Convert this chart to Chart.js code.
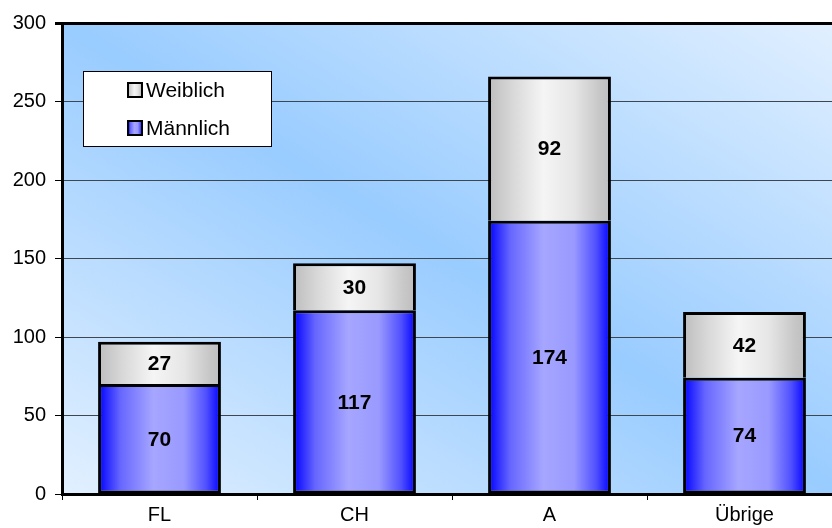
<!DOCTYPE html>
<html>
<head>
<meta charset="utf-8">
<script src="https://cdn.jsdelivr.net/npm/chart.js@4.4.0/dist/chart.umd.min.js"></script>
<style>
  html, body { margin: 0; padding: 0; background: #fff; overflow: hidden; }
  #wrap { width: 842px; height: 528px; }
</style>
</head>
<body>
<div id="wrap"><canvas id="chart"></canvas></div>
<script>
// Data
const categories = ['FL', 'CH', 'A', 'Übrige'];
const maennlich = [70, 117, 174, 74];
const weiblich = [27, 30, 92, 42];
const yTicks = [0, 50, 100, 150, 200, 250, 300];

const FONT = "'Liberation Sans', Arial, sans-serif";
const BAR_PCT = 0.63;

// horizontal gradient across one bar
function barGradient(ctx, stops) {
  const chart = ctx.chart;
  if (!chart.chartArea || !chart.scales.x) return stops[0][1];
  const xs = chart.scales.x;
  const cx = xs.getPixelForValue(ctx.dataIndex);
  const w = (chart.chartArea.width / categories.length) * BAR_PCT;
  const g = chart.ctx.createLinearGradient(cx - w / 2, 0, cx + w / 2, 0);
  stops.forEach(s => g.addColorStop(s[0], s[1]));
  return g;
}

const BLUE_STOPS = [[0, '#0000ff'], [0.18, '#6666ff'], [0.45, '#a6a6ff'], [0.7, '#9999ff'], [0.88, '#5050ff'], [1, '#0000ff']];
const GREY_STOPS = [[0, '#bdbdbd'], [0.2, '#d8d8d8'], [0.45, '#f5f5f5'], [0.7, '#e6e6e6'], [0.9, '#c8c8c8'], [1, '#bdbdbd']];

// plot background with diagonal band
const plotBackground = {
  id: 'plotBackground',
  beforeDraw(chart) {
    const { ctx, chartArea: a } = chart;
    const W = a.right - a.left, H = a.bottom - a.top;
    const cx = a.left + W / 2, cy = a.top + H / 2;
    const k = (W * H) / (W * W + H * H);
    const g = ctx.createLinearGradient(cx - H * k, cy + W * k, cx + H * k, cy - W * k);
    g.addColorStop(0, '#e2f0ff');
    g.addColorStop(0.5, '#99ccff');
    g.addColorStop(1, '#e2f0ff');
    ctx.save();
    ctx.fillStyle = g;
    ctx.fillRect(a.left, a.top, W, H);
    ctx.restore();
  }
};

// values in the middle of each segment
const segmentLabels = {
  id: 'segmentLabels',
  afterDatasetsDraw(chart) {
    const { ctx } = chart;
    ctx.save();
    ctx.font = 'bold 21px ' + FONT;
    ctx.fillStyle = '#000';
    ctx.textAlign = 'center';
    ctx.textBaseline = 'middle';
    chart.data.datasets.forEach((ds, i) => {
      chart.getDatasetMeta(i).data.forEach((bar, j) => {
        ctx.fillText(ds.data[j], bar.x, (bar.y + bar.base) / 2 + 1);
      });
    });
    ctx.restore();
  }
};

// legend box inside the plot
const boxLegend = {
  id: 'boxLegend',
  afterDraw(chart) {
    const { ctx } = chart;
    ctx.save();
    ctx.fillStyle = '#fff';
    ctx.fillRect(83, 71, 189, 76);
    ctx.strokeStyle = '#000';
    ctx.lineWidth = 1;
    ctx.strokeRect(83.5, 71.5, 188, 75);
    const items = chart.data.datasets.slice().reverse();
    ctx.font = '21px ' + FONT;
    ctx.textBaseline = 'middle';
    items.forEach((ds, i) => {
      const y = 90 + i * 38;
      const g = ctx.createLinearGradient(128, 0, 142, 0);
      (ds.label === 'Weiblich' ? GREY_STOPS : BLUE_STOPS).forEach(s => g.addColorStop(s[0], s[1]));
      ctx.fillStyle = g;
      ctx.fillRect(128, y - 7, 14, 14);
      ctx.lineWidth = 2;
      ctx.strokeRect(128, y - 7, 14, 14);
      ctx.fillStyle = '#000';
      ctx.fillText(ds.label, 146, y + 1);
    });
    ctx.restore();
  }
};

new Chart(document.getElementById('chart'), {
  type: 'bar',
  data: {
    labels: categories,
    datasets: [{
      label: 'Männlich',
      data: maennlich,
      backgroundColor: c => barGradient(c, BLUE_STOPS),
      borderColor: '#000',
      borderWidth: 3,
      borderSkipped: false,
      inflateAmount: 0,
      barPercentage: BAR_PCT,
      categoryPercentage: 1
    }, {
      label: 'Weiblich',
      data: weiblich,
      backgroundColor: c => barGradient(c, GREY_STOPS),
      borderColor: '#000',
      borderWidth: 3,
      borderSkipped: 'bottom',
      inflateAmount: 0,
      barPercentage: BAR_PCT,
      categoryPercentage: 1
    }]
  },
  options: {
    responsive: true, maintainAspectRatio: false,
    animation: false,
    layout: { padding: { top: 23, right: 0, left: 0, bottom: 0 } },
    plugins: {
      legend: { display: false },
      tooltip: { enabled: false }
    },
    scales: {
      x: {
        stacked: true,
        grid: { drawOnChartArea: false, drawTicks: true, tickLength: 6, color: '#000', lineWidth: 1 },
        border: { color: '#000', width: 3 },
        ticks: { color: '#000', font: { family: FONT, size: 20 }, padding: 3 },
        afterFit: s => { s.height = 34; }
      },
      y: {
        stacked: true,
        min: 0, max: 300,
        afterBuildTicks: s => { s.ticks = yTicks.map(v => ({ value: v })); },
        grid: {
          color: c => (c.tick && c.tick.value === 300) ? '#000' : '#3e4650',
          lineWidth: c => (c.tick && c.tick.value === 300) ? 3 : 1,
          tickLength: 7, tickColor: '#000'
        },
        border: { color: '#000', width: 3 },
        ticks: { color: '#000', font: { family: FONT, size: 20 }, padding: 9 },
        afterFit: s => { s.width = 62; }
      }
    }
  },
  plugins: [plotBackground, segmentLabels, boxLegend]
});
</script>
</body>
</html>
